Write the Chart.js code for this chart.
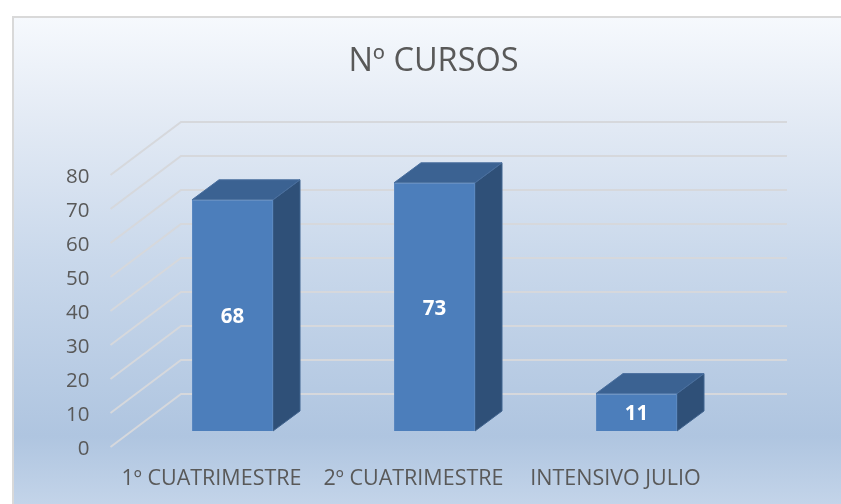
<!DOCTYPE html>
<html><head><meta charset="utf-8">
<style>html,body{margin:0;padding:0;background:#fff}canvas{display:block}</style>
<script src="https://cdn.jsdelivr.net/npm/chart.js@4"></script>
</head><body><canvas id="c" width="841" height="504"></canvas>
<script>
const categories = ["1º CUATRIMESTRE", "2º CUATRIMESTRE", "INTENSIVO JULIO"];
const values = [68, 73, 11];
const yTicks = [0, 10, 20, 30, 40, 50, 60, 70, 80];
const titleText = "Nº CURSOS";

const FONT = "'Open Sans', sans-serif";
const TEXT = "#595959";
const GRID = "#d6d8dc";
const BAR_SHIFT = {x: 21, y: -16};
const BAR_DEPTH = {x: 27, y: -20};
const WALL = {x: 70.5, y: -53};

const scene = {
  id: "scene",
  afterLayout(chart) {
    chart.titleBlock.left = 26;
    chart.titleBlock.right = 841;
  },
  beforeDraw(chart) {
    const c = chart.ctx, W = chart.width, H = chart.height;
    chart.scales.y.getLabelItems().forEach(it => { it.options.translation[1] += 2; });
    c.save();
    c.fillStyle = "#fff"; c.fillRect(0, 0, W, H);
    const g = c.createLinearGradient(0, 17, 0, 504);
    g.addColorStop(0, "#f6f9fd");
    g.addColorStop(0.2, "#e4ebf5");
    g.addColorStop(0.5, "#c9d8eb");
    g.addColorStop(0.86, "#afc5e0");
    g.addColorStop(1, "#c3d4e9");
    c.fillStyle = g; c.fillRect(14, 18, W - 14, H - 18);
    c.fillStyle = "#d9d9d9";
    c.fillRect(12, 16, W - 12, 2);
    c.fillRect(12, 16, 2, H - 16);
    c.restore();
  },
  beforeDatasetsDraw(chart) {
    const c = chart.ctx, y = chart.scales.y, a = chart.chartArea;
    c.save();
    c.strokeStyle = GRID; c.lineWidth = 2; c.lineJoin = "miter";
    yTicks.forEach(v => {
      const p = y.getPixelForValue(v);
      c.beginPath();
      c.moveTo(a.left, p);
      c.lineTo(a.left + WALL.x, p + WALL.y);
      c.lineTo(a.right + WALL.x, p + WALL.y);
      c.stroke();
    });
    c.restore();
    c.save();
    c.translate(BAR_SHIFT.x, BAR_SHIFT.y);
    const dx = BAR_DEPTH.x, dy = BAR_DEPTH.y;
    chart.getDatasetMeta(0).data.forEach(b => {
      const l = b.x - b.width / 2, r = b.x + b.width / 2, t = b.y, bot = b.base;
      c.fillStyle = "#2f5078";
      c.strokeStyle = "#41648f"; c.lineWidth = 1;
      c.beginPath();
      c.moveTo(r, t); c.lineTo(r + dx, t + dy); c.lineTo(r + dx, bot + dy); c.lineTo(r, bot);
      c.closePath(); c.fill(); c.stroke();
      c.fillStyle = "#3b6292";
      c.strokeStyle = "#4a6f9e";
      c.beginPath();
      c.moveTo(l, t); c.lineTo(l + dx, t + dy); c.lineTo(r + dx, t + dy); c.lineTo(r, t);
      c.closePath(); c.fill(); c.stroke();
    });
  },
  afterDatasetsDraw(chart) {
    const c = chart.ctx;
    c.fillStyle = "#ffffff";
    c.font = "bold 20.5px " + FONT;
    c.textAlign = "center"; c.textBaseline = "middle";
    chart.getDatasetMeta(0).data.forEach((b, i) => {
      c.fillText(String(values[i]), b.x, (b.y + b.base) / 2 + 2);
    });
    c.restore();
  }
};

new Chart(document.getElementById("c"), {
  type: "bar",
  data: {
    labels: categories,
    datasets: [{
      data: values,
      backgroundColor: "#4c7ebb",
      borderColor: "#5a88c0",
      borderWidth: 1,
      barPercentage: 1,
      categoryPercentage: 0.401
    }]
  },
  options: {
    responsive: false,
    animation: false,
    layout: {padding: {left: 0, right: 124.5, top: 0, bottom: 0}},
    plugins: {
      legend: {display: false},
      tooltip: {enabled: false},
      title: {
        display: true,
        text: titleText,
        color: TEXT,
        font: {family: FONT, size: 32.5, weight: "normal"},
        padding: {top: 42, bottom: 94}
      }
    },
    scales: {
      x: {
        grid: {display: false, drawTicks: false},
        border: {display: false},
        afterFit(s) { s.height = 57; },
        ticks: {color: TEXT, font: {family: FONT, size: 21.5}, padding: 18.5, maxRotation: 0, autoSkip: false}
      },
      y: {
        min: 0, max: 80,
        grid: {display: false, drawTicks: false},
        border: {display: false},
        afterFit(s) { s.width = 110.5; },
        afterBuildTicks(s) { s.ticks = yTicks.map(v => ({value: v})); },
        ticks: {color: TEXT, font: {family: FONT, size: 20.5}, padding: 21}
      }
    }
  },
  plugins: [scene]
});
</script></body></html>
